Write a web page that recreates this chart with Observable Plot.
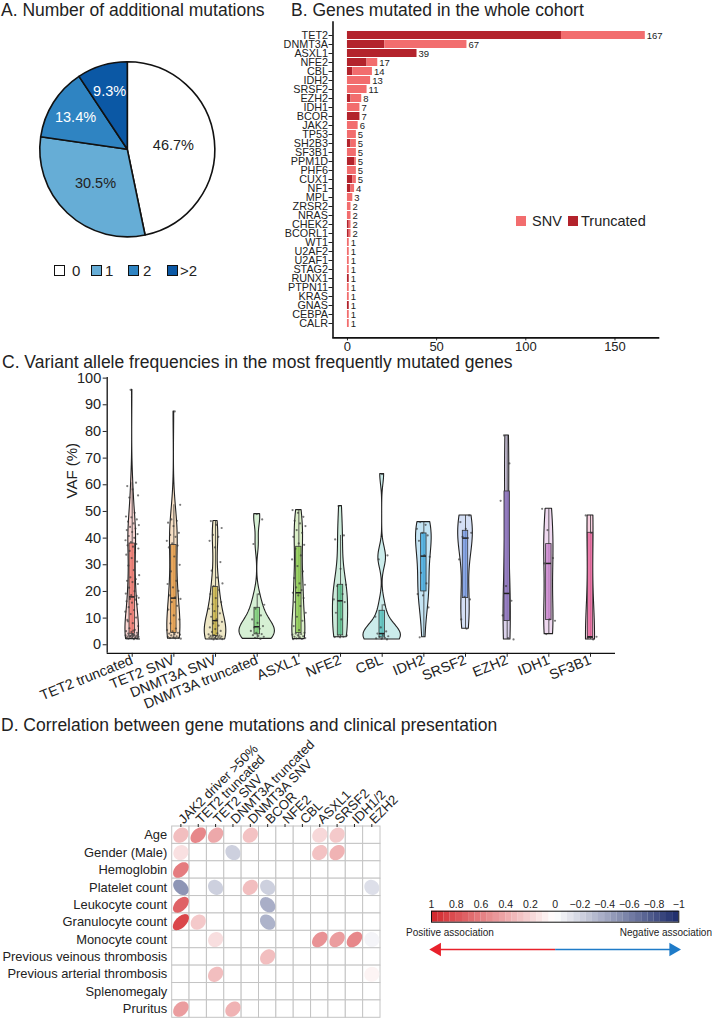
<!DOCTYPE html>
<html><head><meta charset="utf-8">
<script src="https://cdn.jsdelivr.net/npm/d3@7"></script>
<script src="https://cdn.jsdelivr.net/npm/@observablehq/plot@0.6"></script>
<style>
body{margin:0;background:#fff;}
#root{position:relative;width:712px;height:1018px;overflow:hidden;font-family:"Liberation Sans",Arial,sans-serif;color:#222;background:#fff;}
.abs{position:absolute;}
.txt{position:absolute;line-height:1.15;white-space:nowrap;}
.sq{position:absolute;box-sizing:border-box;}
</style></head><body><div id="root"></div>
<script>
// ---------- DATA ----------
const mutationClasses = ["0", "1", "2", ">2"];
const mutationShares = [46.7, 30.5, 13.4, 9.3];

const genes = ["TET2","DNMT3A","ASXL1","NFE2","CBL","IDH2","SRSF2","EZH2","IDH1","BCOR","JAK2","TP53","SH2B3","SF3B1","PPM1D","PHF6","CUX1","NF1","MPL","ZRSR2","NRAS","CHEK2","BCORL1","WT1","U2AF2","U2AF1","STAG2","RUNX1","PTPN11","KRAS","GNAS","CEBPA","CALR"];
const geneTotals = [167,67,39,17,14,13,11,8,7,7,6,5,5,5,5,5,5,4,3,2,2,2,2,1,1,1,1,1,1,1,1,1,1];
const geneTruncated = [120,21,39,11,3,0,0,2,0,7,0,0,2,0,4,0,3,2,0,0,0,1,1,0,0,0,0,1,0,0,1,0,0];
const barTicks = [0, 50, 100, 150];

const violinGroups = ["TET2 truncated","TET2 SNV","DNMT3A SNV","DNMT3A truncated","ASXL1","NFE2","CBL","IDH2","SRSF2","EZH2","IDH1","SF3B1"];
const vafTet2Truncated = [2.1,2.3,2.3,2.5,2.6,2.8,2.9,3.0,3.1,3.1,3.3,3.4,3.5,3.6,3.6,3.8,3.9,2.4,2.7,3.2,2.2,3.7,
  4.2,4.5,4.8,5.1,5.6,6.2,7.0,8.1,9.3,10.2,11.5,12.4,13.0,14.1,15.2,15.8,16.3,16.9,17.2,17.6,5.3,8.8,
  18.3,18.6,19.2,20.1,21.4,22.8,23.5,24.0,24.6,25.3,26.1,28.0,29.7,31.2,32.5,33.8,34.6,35.2,36.1,36.8,37.3,37.8,
  38.5,39.2,40.1,40.8,41.5,42.3,43.0,43.6,44.2,44.9,45.5,46.2,47.0,47.8,48.1,49.5,55.2,56.0,58.3,59.5,60.8,95.6];
const vafTet2Snv = [2.3,2.4,2.5,2.6,2.8,3.0,3.2,3.5,3.8,4.0,4.2,4.5,5.0,5.5,6.1,8.0,9.5,11.0,13.2,14.6,16.0,17.2,17.8,18.5,20.2,21.5,22.8,24.0,27.5,30.0,33.1,36.5,37.2,38.0,39.0,40.5,41.2,42.0,44.5,45.8,46.5,47.0,52.5,87.5];
const vafDnmt3aSnv = [2.0,2.1,2.2,2.4,2.5,2.6,2.7,2.9,3.0,3.1,3.2,3.3,3.4,3.6,3.9,4.3,4.8,5.2,5.9,6.5,7.2,8.0,8.6,9.5,10.5,11.8,12.6,13.5,14.4,15.2,16.0,17.5,19.0,20.5,22.0,23.0,25.2,27.8,31.0,36.5,39.0,40.5,41.2,43.8,45.0,46.4];
const vafDnmt3aTruncated = [2.2,2.6,3.0,3.3,3.6,4.0,4.5,5.2,6.0,6.5,7.0,8.2,9.5,11.0,13.5,15.0,19.0,37.8,47.0,49.0];
const vafAsxl1 = [2.1,2.2,2.4,2.5,2.8,3.0,3.2,3.5,3.8,4.0,4.2,4.5,5.5,7.0,9.0,10.5,12.0,14.5,16.0,17.5,18.5,19.5,20.5,21.5,22.5,23.0,25.0,27.5,29.5,32.0,33.5,36.0,37.5,38.0,40.5,42.0,43.0,44.5,45.5,46.5,48.0,49.5,50.5];
const vafNfe2 = [2.8,2.9,3.0,3.2,3.5,9.5,12.0,16.0,16.5,17.0,19.0,22.0,22.5,28.5,39.5,41.0,52.0];
const vafCbl = [2.0,2.2,2.4,2.6,2.9,3.2,3.6,4.2,5.0,6.5,10.5,15.0,32.0,33.5,64.0];
const vafIdh2 = [2.8,14.0,18.5,19.0,23.0,27.0,33.0,33.5,39.0,41.0,42.0,43.5,45.0,46.0];
const vafSrsf2 = [6.0,9.5,17.0,18.0,32.0,40.0,40.5,42.0,43.5,46.0,48.5];
const vafEzh2 = [2.0,2.5,11.0,16.5,22.0,54.0,68.0,78.5];
const vafIdh1 = [4.0,9.0,9.5,30.5,32.5,43.0,51.0];
const vafSf3b1 = [2.0,2.5,3.0,42.0,48.5];
const vafTicks = [0,10,20,30,40,50,60,70,80,90,100];

const clinicalFeatures = ["Age","Gender (Male)","Hemoglobin","Platelet count","Leukocyte count","Granulocyte count","Monocyte count","Previous veinous thrombosis","Previous arterial thrombosis","Splenomegaly","Pruritus"];
const corrGenes = ["JAK2 driver >50%","TET2 truncated","TET2 SNV","DNMT3A truncated","DNMT3A SNV","BCOR","NFE2","CBL","ASXL1","SRSF2","IDH1/2","EZH2"];
const corrAge          = [0.30,0.55,0.40,null,0.28,null,null,null,0.18,0.25,null,null];
const corrGender       = [0.14,null,null,-0.22,null,null,null,null,0.28,0.35,null,null];
const corrHemoglobin   = [0.60,null,null,null,null,null,null,null,null,null,null,null];
const corrPlatelet     = [-0.50,null,-0.22,null,0.30,-0.22,null,null,null,null,null,-0.15];
const corrLeukocyte    = [0.72,null,null,null,null,-0.38,null,null,null,null,null,null];
const corrGranulocyte  = [0.85,0.25,null,null,null,-0.36,null,null,null,null,null,null];
const corrMonocyte     = [null,null,0.15,null,null,null,null,null,0.50,0.45,0.55,-0.05];
const corrVeinous      = [null,null,null,null,null,0.30,null,null,null,null,null,null];
const corrArterial     = [null,null,0.30,null,null,null,null,null,null,null,null,0.05];
const corrSpleno       = [null,null,null,null,null,null,null,null,null,null,null,null];
const corrPruritus     = [0.45,null,null,0.35,null,null,null,null,null,null,null,null];
const legendTicks = [1,0.8,0.6,0.4,0.2,0,-0.2,-0.4,-0.6,-0.8,-1];

// ---------- STYLE ----------
const FONT = '"Liberation Sans", Arial, sans-serif';
const baseStyle = {background:"transparent", fontFamily: FONT, color:"#222", overflow:"visible"};
const pieColors = ["#ffffff","#66add6","#2f84c2","#0b58a5"];
const snvColor = "#f26d6e", truncColor = "#b3232c";
const violinColors = ["#f07b72","#e9a04c","#c9b44a","#7fd07a","#8fcc55","#5fc08f","#5cc4c0","#4aaee0","#7a9be0","#8e74c0","#cc88d0","#ea6aa0"];
const corrScale = {type:"linear", domain:[-1,0,1], range:["#1c2b6b","#ffffff","#d3252a"]};

const root = document.getElementById("root");
function place(node, left, top){ const d=document.createElement("div"); d.className="abs"; d.style.left=left+"px"; d.style.top=top+"px"; d.appendChild(node); root.appendChild(d); }
function text(str, left, top, size, extra){ const d=document.createElement("div"); d.className="txt"; d.textContent=str; d.style.left=left+"px"; d.style.top=top+"px"; d.style.fontSize=size+"px"; if(extra) Object.assign(d.style, extra); root.appendChild(d); return d; }
function square(left, top, size, color, border){ const d=document.createElement("div"); d.className="sq"; Object.assign(d.style,{left:left+"px",top:top+"px",width:size+"px",height:size+"px",background:color,border:border||"none"}); root.appendChild(d); }

// ---------- A: PIE ----------
const pieData = mutationClasses.map((c,i)=>({cls:c, share:mutationShares[i]}));
function pieMark(...args){
  const dims = args.find(a => a && typeof a==="object" && "marginLeft" in a && "width" in a);
  const w = dims.width - dims.marginLeft - dims.marginRight, h = dims.height - dims.marginTop - dims.marginBottom;
  const cx = dims.marginLeft + w/2, cy = dims.marginTop + h/2, R = Math.min(w,h)/2;
  const arcs = d3.pie().sort(null).value(d=>d.share)(pieData);
  const g = d3.create("svg:g").attr("transform",`translate(${cx},${cy})`);
  g.selectAll("path").data(arcs).join("path")
    .attr("d", d3.arc().innerRadius(0).outerRadius(R))
    .attr("fill",(d,i)=>pieColors[i]).attr("stroke","#111").attr("stroke-width",1.6).attr("stroke-linejoin","round");
  g.selectAll("text").data(arcs).join("text")
    .attr("transform", d=>{ const a=(d.startAngle+d.endAngle)/2; const rr=R*(d.data.share>20?0.53:0.7); return `translate(${Math.sin(a)*rr},${-Math.cos(a)*rr})`; })
    .attr("text-anchor","middle").attr("dy","0.35em").attr("font-size",14.5).attr("font-family",FONT)
    .attr("fill",(d,i)=> i>=2 ? "#fff" : "#222").text(d=>d.data.share.toFixed(1)+"%");
  return g.node();
}
place(Plot.plot({width:256, height:200, marginLeft:39.8, marginRight:41.2, marginTop:11.8, marginBottom:13.2, style:baseStyle, marks:[pieMark]}), 0, 50);

// ---------- B: BARS ----------
const geneRows = [];
genes.forEach((g,i)=>{ geneRows.push({gene:g, type:"Truncated", n:geneTruncated[i]}); geneRows.push({gene:g, type:"SNV", n:geneTotals[i]-geneTruncated[i]}); });
const geneTotalRows = genes.map((g,i)=>({gene:g, total:geneTotals[i]}));
place(Plot.plot({
  width:442, height:350, marginLeft:62.5, marginRight:54, marginTop:6.3, marginBottom:27.6,
  x:{domain:[-8.1,174.4]},
  y:{domain:genes, paddingInner:0.1, paddingOuter:0.15},
  color:{domain:["SNV","Truncated"], range:[snvColor, truncColor]},
  style:baseStyle,
  marks:[
    Plot.barX(geneRows, {y:"gene", x:"n", fill:"type", order:["Truncated","SNV"]}),
    Plot.text(geneTotalRows, {y:"gene", x:"total", text:d=>String(d.total), textAnchor:"start", dx:1.5, fontSize:9.5, fill:"#222"}),
    Plot.axisY({tickSize:4, tickPadding:1, fontSize:10.8, label:null}),
    Plot.axisX({ticks:barTicks, tickSize:3, tickPadding:1, fontSize:13, label:null}),
    Plot.ruleX([-8.1], {stroke:"#111", strokeWidth:1.6}),
    Plot.frame({anchor:"bottom", stroke:"#111", strokeWidth:1.6})
  ]
}), 270, 15);

// ---------- C: VIOLINS ----------
const vafSets = [vafTet2Truncated,vafTet2Snv,vafDnmt3aSnv,vafDnmt3aTruncated,vafAsxl1,vafNfe2,vafCbl,vafIdh2,vafSrsf2,vafEzh2,vafIdh1,vafSf3b1];
const gauss = u => Math.exp(-u*u/2)/Math.sqrt(2*Math.PI);
const densities = vafSets.map(vals=>{
  const s = vals.slice().sort(d3.ascending);
  const sd = d3.deviation(s), iqr = d3.quantile(s,0.75)-d3.quantile(s,0.25);
  const lo = Math.min(sd, iqr/1.34) || sd || 1;
  const bw = 0.9*lo*Math.pow(s.length,-0.2);
  const mn = s[0], mx = s[s.length-1];
  return d3.range(0,81).map(k=>{ const y = mn+(mx-mn)*k/80; return {y, d: d3.mean(s, v=>gauss((y-v)/bw))/bw}; });
});
const maxDens = d3.max(densities, p=>d3.max(p, q=>q.d));
const violinRows = [], violinStats = [], violinDots = [];
vafSets.forEach((vals,i)=>{
  const cat = violinGroups[i];
  densities[i].forEach(p=>{ const hw = 0.45*p.d/maxDens; violinRows.push({cat, y:p.y, x1:i-hw, x2:i+hw}); });
  const s = vals.slice().sort(d3.ascending);
  const q1 = d3.quantile(s,0.25), med = d3.quantile(s,0.5), q3 = d3.quantile(s,0.75), iq = q3-q1;
  const lo = d3.min(s.filter(v=>v>=q1-1.5*iq)), hi = d3.max(s.filter(v=>v<=q3+1.5*iq));
  violinStats.push({cat, i, q1, med, q3, lo, hi});
  vals.forEach((v,k)=>{ const off = (((k+1)*0.6180339887 + i*0.37) % 1 - 0.5)*0.34; violinDots.push({x:i+off, y:v}); });
});
const bw2 = 0.065;
place(Plot.plot({
  width:712, height:342, marginLeft:106.7, marginRight:97, marginTop:9.1, marginBottom:57.2,
  x:{domain:[-0.6,11.6]}, y:{domain:[-3.2,100.2]},
  color:{domain:violinGroups, range:violinColors},
  style:baseStyle,
  marks:[
    Plot.areaX(violinRows, {y:"y", x1:"x1", x2:"x2", z:"cat", fill:"cat", fillOpacity:0.32, stroke:"#222", strokeWidth:1.1}),
    Plot.ruleX(violinStats, {x:"i", y1:"lo", y2:"hi", stroke:"#333", strokeWidth:0.8}),
    Plot.rect(violinStats, {x1:d=>d.i-bw2, x2:d=>d.i+bw2, y1:"q1", y2:"q3", fill:"cat", fillOpacity:0.85, stroke:"#333", strokeWidth:0.8}),
    Plot.ruleY(violinStats, {y:"med", x1:d=>d.i-bw2, x2:d=>d.i+bw2, stroke:"#222", strokeWidth:1.5}),
    Plot.dot(violinDots, {x:"x", y:"y", r:1.1, fill:"#333", fillOpacity:0.65}),
    Plot.axisY({ticks:vafTicks, tickSize:4, tickPadding:2, fontSize:14.5, label:null}),
    Plot.axisX({ticks:violinGroups.map((_,i)=>i), tickFormat:i=>violinGroups[i], tickRotate:-22, tickSize:4, tickPadding:2, fontSize:14.3, label:null}),
    Plot.ruleX([-0.6], {stroke:"#111", strokeWidth:1.3}),
    Plot.ruleY([-3.2], {stroke:"#111", strokeWidth:1.3}),
    Plot.text(["VAF (%)"], {frameAnchor:"left", rotate:-90, dx:-35, dy:-17, fontSize:15, fill:"#222"})
  ]
}), 0, 368);

// ---------- D: CORRELATION ----------
const correlations = [corrAge,corrGender,corrHemoglobin,corrPlatelet,corrLeukocyte,corrGranulocyte,corrMonocyte,corrVeinous,corrArterial,corrSpleno,corrPruritus];
const gridCells = [], ellipsePts = [];
clinicalFeatures.forEach((f,i)=>corrGenes.forEach((g,j)=>{
  gridCells.push({x1:j, x2:j+1, y1:i, y2:i+1});
  const r = correlations[i][j];
  if (r == null) return;
  const a = 0.43*(1+0.4*Math.abs(r)), b = 0.43*(1-0.32*Math.abs(r));
  const s = Math.SQRT1_2;
  const ux = s, uy = r>=0 ? -s : s; const vx = -uy, vy = ux;
  d3.range(0,48).forEach(k=>{ const t = 2*Math.PI*k/48;
    ellipsePts.push({id:i+"-"+j, r, x:j+0.5+a*Math.cos(t)*ux+b*Math.sin(t)*vx, y:i+0.5+a*Math.cos(t)*uy+b*Math.sin(t)*vy}); });
}));
place(Plot.plot({
  width:400, height:288, marginLeft:171.7, marginRight:20, marginTop:96, marginBottom:0.7,
  x:{domain:[0,12]}, y:{domain:[0,11], reverse:true},
  color:corrScale, style:baseStyle,
  marks:[
    Plot.rect(gridCells, {x1:"x1", x2:"x2", y1:"y1", y2:"y2", fill:"white", stroke:"#c4c4c4", strokeWidth:1}),
    Plot.line(ellipsePts, {x:"x", y:"y", z:"id", fill:"r", stroke:"none", curve:"linear-closed"}),
    Plot.axisX({anchor:"top", ticks:corrGenes.map((_,j)=>j+0.5), tickFormat:d=>corrGenes[d-0.5], tickRotate:-45, tickSize:3, tickPadding:2, fontSize:13.2, label:null}),
    Plot.axisY({ticks:clinicalFeatures.map((_,i)=>i+0.5), tickFormat:d=>clinicalFeatures[d-0.5], tickSize:0, tickPadding:5, fontSize:12.9, label:null})
  ]
}), 0, 730);

// colour bar legend
const barSteps = d3.range(0,40).map(k=>1-k*0.05);
const fmtLegend = d => d===0 ? "0" : (d<0 ? "\u2212"+Math.abs(d) : String(d));
place(Plot.plot({
  width:312, height:32, marginLeft:31, marginRight:33.7, marginTop:20.7, marginBottom:0.3,
  x:{domain:[1,-1]}, color:corrScale, style:baseStyle,
  marks:[
    Plot.rect(barSteps, {x1:d=>d, x2:d=>d-0.051, fill:d=>d-0.025}),
    Plot.frame({stroke:"#111", strokeWidth:1}),
    Plot.axisX({anchor:"top", ticks:legendTicks, tickFormat:fmtLegend, tickSize:0, tickPadding:3, fontSize:10.5, label:null})
  ]
}), 400, 890);
const arrowDirs = [{from:0, to:0.94, tip:0.955, rot:-90, c:"#e8212b"}, {from:0, to:-0.94, tip:-0.955, rot:90, c:"#1f7bc8"}];
place(Plot.plot({
  width:312, height:20, marginLeft:31, marginRight:33.7, marginTop:0, marginBottom:0,
  x:{domain:[1,-1], axis:null}, y:{domain:[-1,1], axis:null}, style:baseStyle,
  marks:[
    Plot.link(arrowDirs, {x1:"from", x2:"to", y1:0, y2:0, stroke:"c", strokeWidth:1.6}),
    Plot.dot(arrowDirs, {x:"tip", y:0, symbol:"triangle", r:5, rotate:"rot", fill:"c", stroke:"none"})
  ]
}), 400, 939);

// ---------- HTML TEXT ----------
text("A. Number of additional mutations", 1, 0, 17.5);
text("B. Genes mutated in the whole cohort", 291, 0, 17.5);
text("C. Variant allele frequencies in the most frequently mutated genes", 2, 352, 17.5);
text("D. Correlation between gene mutations and clinical presentation", 1, 715, 17.5);
// pie legend
[[54,72],[91,105],[128,143],[167,180]].forEach(([sx,tx],i)=>{ square(sx,265,10.5,pieColors[i],"1.5px solid #111"); text(mutationClasses[i],tx,262,15); });
// bar legend
square(516,216,9.5,snvColor); text("SNV",532,212.5,14.5);
square(568,216,9.5,truncColor); text("Truncated",581,212.5,14.5);
// association labels
text("Positive association",406,927,10);
const neg = text("Negative association",0,927,10); neg.style.left="auto"; neg.style.right="0px";
</script></body></html>
